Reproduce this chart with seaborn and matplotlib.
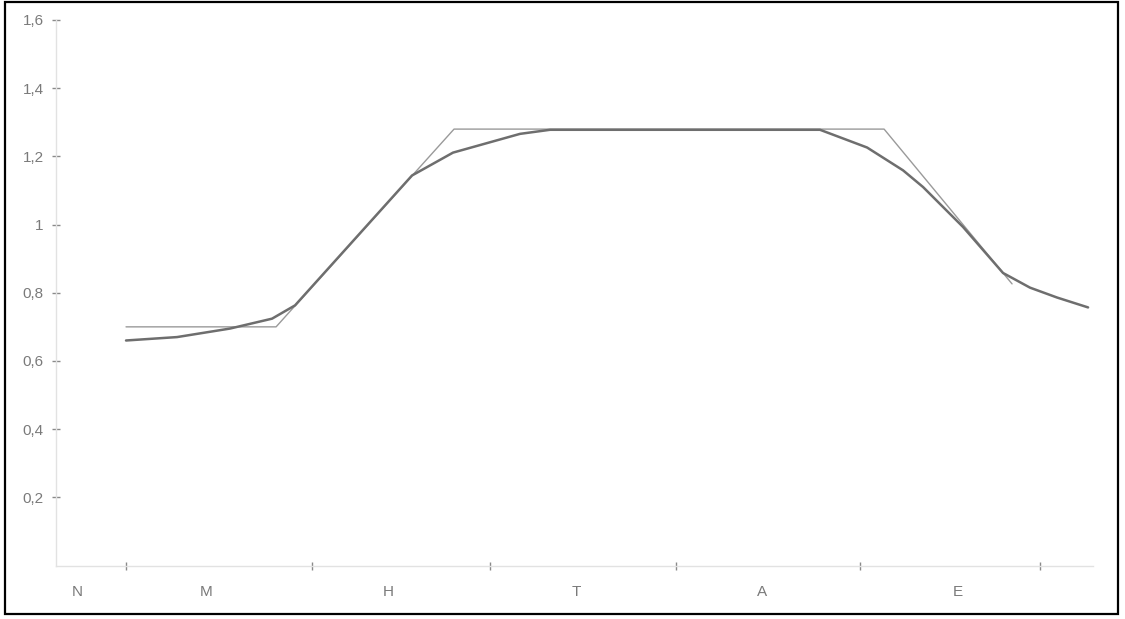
import matplotlib.pyplot as plt
import matplotlib.patches as mpatches
from matplotlib.ticker import FuncFormatter, FixedLocator
import seaborn as sns
import pandas as pd

# eixo x em escala 0-100 (posição ao longo do dia)
x_suave = [6.75, 11.67, 16.78, 20.83, 23.05, 34.33, 38.28, 44.74, 47.64,
           73.67, 78.21, 81.68, 83.61, 87.46, 91.32, 93.92, 96.53, 99.52]
y_suave = [0.660, 0.670, 0.695, 0.724, 0.763, 1.144, 1.211, 1.266, 1.278,
           1.278, 1.226, 1.159, 1.110, 0.993, 0.858, 0.815, 0.786, 0.757]

x_trapezio = [6.75, 21.22, 38.38, 79.85, 92.19]
y_trapezio = [0.70, 0.70, 1.28, 1.28, 0.826]

divisoes = [6.75, 24.69, 41.85, 59.79, 77.53, 94.89]
rotulos_pos = [2.03, 14.46, 32.02, 50.14, 68.08, 86.98]
rotulos = ['N', 'M', 'H', 'T', 'A', 'E']
y_ticks = [0.2, 0.4, 0.6, 0.8, 1.0, 1.2, 1.4, 1.6]

sns.set_style('white')
plt.rcParams['font.family'] = ['Liberation Sans', 'DejaVu Sans']

fig = plt.figure(figsize=(11.25, 6.19), dpi=100)
ax = fig.add_axes([0.0498, 0.0864, 0.9218, 0.8813])

df_trap = pd.DataFrame({'x': x_trapezio, 'y': y_trapezio})
df_suave = pd.DataFrame({'x': x_suave, 'y': y_suave})
sns.lineplot(data=df_trap, x='x', y='y', ax=ax, color='#9a9a9a', linewidth=1.0,
             sort=False)
sns.lineplot(data=df_suave, x='x', y='y', ax=ax, color='#6e6e6e', linewidth=1.8,
             sort=False)

ax.set_xlim(0, 100)
ax.set_ylim(0, 1.6)
ax.set_xlabel('')
ax.set_ylabel('')

for lado in ['top', 'right']:
    ax.spines[lado].set_visible(False)
for lado in ['left', 'bottom']:
    ax.spines[lado].set_color('#e2e2e2')
    ax.spines[lado].set_linewidth(1.0)

ax.set_yticks(y_ticks)
ax.yaxis.set_major_formatter(FuncFormatter(
    lambda v, p: ('%g' % round(v, 1)).replace('.', ',')))
ax.tick_params(axis='y', direction='inout', length=6, width=1, color='#8a8a8a',
               labelcolor='#7a7a7a', labelsize=11, pad=6, left=True)

ax.xaxis.set_major_locator(FixedLocator(divisoes))
ax.xaxis.set_minor_locator(FixedLocator(rotulos_pos))
ax.set_xticklabels([], minor=False)
ax.set_xticklabels(rotulos, minor=True)
ax.tick_params(axis='x', which='major', direction='inout', length=6, width=1,
               color='#8a8a8a', bottom=True)
ax.tick_params(axis='x', which='minor', length=0, labelcolor='#7a7a7a',
               labelsize=11, pad=14)

# moldura preta em volta da figura
moldura = mpatches.Rectangle((0.0045, 0.008), 0.9893, 0.989, transform=fig.transFigure,
                             fill=False, edgecolor='black', linewidth=1.6)
fig.patches.append(moldura)

fig.savefig('out.png', dpi=100)
plt.close(fig)
